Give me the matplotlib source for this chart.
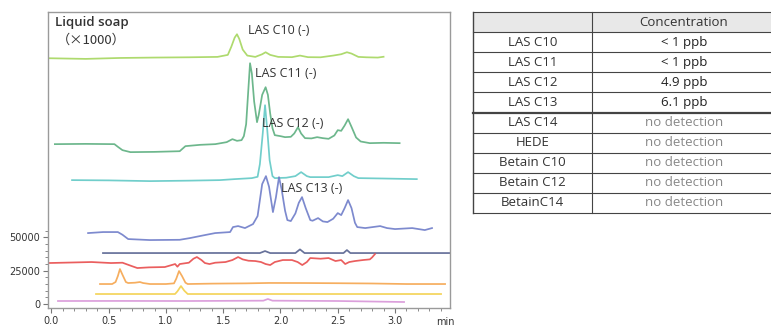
import matplotlib
matplotlib.use("Agg")
import matplotlib.pyplot as plt
from matplotlib.ticker import FixedLocator, MultipleLocator

plt.rcParams['font.family'] = ['Open Sans', 'Noto Sans CJK JP', 'DejaVu Sans']

# ---------------- data (time in min, intensity in counts) ----------------
c10_t = [-0.03, 0.3, 0.6, 0.9, 1.2, 1.45, 1.54, 1.57, 1.60, 1.62, 1.64, 1.67, 1.71, 1.78,
         1.84, 1.87, 1.91, 1.98, 2.1, 2.17, 2.24, 2.35, 2.46, 2.53, 2.58, 2.62, 2.68, 2.75, 2.85, 2.9]
c10_v = [184500, 184000, 184700, 185000, 185200, 185500, 187000, 193000, 200000, 202500, 199000,
         191000, 186500, 185500, 187500, 189000, 187000, 185500, 185300, 186500, 185300, 185200,
         186500, 187500, 189000, 188000, 185500, 185200, 185000, 185600]

c11_t = [0.03, 0.3, 0.55, 0.58, 0.62, 0.69, 0.9, 1.12, 1.15, 1.17, 1.3, 1.43, 1.53, 1.58, 1.62,
         1.66, 1.68, 1.70, 1.72, 1.734, 1.75, 1.77, 1.795, 1.81, 1.84, 1.87, 1.89, 1.91, 1.93, 1.95,
         2.0, 2.04, 2.09, 2.12, 2.153, 2.18, 2.214, 2.27, 2.32, 2.37, 2.42, 2.47, 2.50, 2.53, 2.56,
         2.59, 2.62, 2.66, 2.7, 2.78, 2.9, 3.04]
c11_v = [120000, 120200, 120000, 118000, 115500, 114000, 114200, 114700, 117000, 118500, 119500,
         120000, 121500, 123750, 122500, 123000, 126000, 135000, 162000, 180750, 173000, 152000,
         136500, 142000, 157000, 162750, 157000, 143000, 132000, 126750, 126000, 125250, 125500,
         128000, 132750, 128000, 124500, 124300, 125250, 124500, 124000, 126500, 130500, 130000,
         134000, 138750, 133000, 125000, 122000, 120750, 121000, 120750]

c12_t = [0.18, 0.5, 0.86, 1.2, 1.47, 1.6, 1.75, 1.80, 1.82, 1.845, 1.865, 1.885, 1.905, 1.93,
         1.95, 2.05, 2.13, 2.18, 2.23, 2.26, 2.42, 2.50, 2.54, 2.59, 2.64, 2.68, 2.9, 3.19]
c12_v = [93000, 92800, 92250, 92600, 93000, 93750, 94500, 95500, 105000, 128000, 149250, 130000,
         108000, 96000, 94500, 94800, 96000, 99000, 96000, 95250, 95250, 96750, 96000, 99000,
         96000, 94500, 94200, 93750]

c13_t = [0.32, 0.45, 0.58, 0.62, 0.67, 0.86, 1.12, 1.21, 1.34, 1.43, 1.56, 1.585, 1.63, 1.69,
         1.76, 1.80, 1.82, 1.84, 1.873, 1.90, 1.934, 1.96, 1.987, 2.01, 2.04, 2.06, 2.09, 2.13,
         2.16, 2.188, 2.22, 2.26, 2.28, 2.328, 2.37, 2.41, 2.46, 2.50, 2.53, 2.56, 2.59, 2.62,
         2.65, 2.67, 2.74, 2.87, 2.93, 3.0, 3.15, 3.26, 3.323]
c13_v = [53250, 54000, 54000, 52000, 48750, 48000, 48200, 49500, 51750, 53250, 54000, 57750,
         58500, 57000, 60000, 66000, 78000, 90000, 96000, 88000, 69000, 80000, 95250, 86000,
         70000, 63000, 62250, 68000, 76000, 80250, 72000, 63000, 62500, 64500, 62000, 61500,
         64000, 68250, 66750, 72000, 78000, 72000, 61000, 57750, 57000, 58500, 57000, 56250,
         57000, 55500, 57000]

c14_t = [0.45, 1.0, 1.5, 1.82, 1.865, 1.91, 2.13, 2.17, 2.21, 2.55, 2.58, 2.61, 3.0, 3.48]
c14_v = [38250, 38250, 38300, 38250, 39750, 38250, 38250, 41000, 38250, 38250, 40500, 38250,
         38250, 38250]

hede_t = [-0.03, 0.2, 0.35, 0.52, 0.62, 0.70, 0.75, 0.85, 0.99, 1.08, 1.10, 1.12, 1.20, 1.24,
          1.27, 1.31, 1.34, 1.38, 1.43, 1.52, 1.58, 1.63, 1.67, 1.72, 1.78, 1.83, 1.87, 1.91,
          1.95, 2.02, 2.10, 2.15, 2.19, 2.23, 2.26, 2.35, 2.42, 2.48, 2.53, 2.565, 2.60, 2.65,
          2.72, 2.78, 2.80, 2.825]
hede_v = [30750, 31200, 31500, 30750, 31000, 28500, 27000, 27500, 27750, 30000, 28000, 30000,
          31000, 34000, 35250, 33000, 30750, 30000, 31000, 31500, 33000, 35250, 33500, 32500,
          32250, 31500, 30000, 29250, 31500, 33000, 33000, 31500, 29250, 31500, 34500, 34000,
          34500, 32250, 33000, 30000, 31500, 32250, 33000, 33500, 35000, 37500]

b10_t = [0.424, 0.53, 0.56, 0.58, 0.598, 0.62, 0.65, 0.67, 0.73, 0.773, 0.80, 0.86, 1.0, 1.07,
         1.09, 1.114, 1.14, 1.17, 1.19, 1.4, 1.7, 1.9, 2.2, 2.5, 2.8, 3.1, 3.437]
b10_v = [15000, 15000, 16500, 21000, 26250, 22000, 16500, 15750, 16000, 16500, 15750, 15000,
         15000, 15500, 19000, 24750, 21000, 16000, 15000, 15300, 15500, 15800, 15750, 15600,
         15400, 15000, 15000]

b12_t = [0.389, 0.8, 1.079, 1.10, 1.131, 1.16, 1.19, 1.6, 2.5, 3.402]
b12_v = [7500, 7500, 7500, 9500, 13500, 10000, 7500, 7500, 7500, 7500]

b14_t = [0.057, 0.6, 1.2, 1.85, 1.89, 1.93, 2.5, 3.079]
b14_v = [2250, 2300, 2250, 2500, 3750, 2500, 2250, 1500]

trace_colors = ['#a5d65e', '#5daf80', '#62c9c6', '#6f7dc9', '#56628f',
                '#e84c4c', '#f5a54e', '#f3d04a', '#d895d8']

peak_labels = ['LAS C10 (-)', 'LAS C11 (-)', 'LAS C12 (-)', 'LAS C13 (-)']
peak_label_t = [1.716, 1.777, 1.838, 2.004]
peak_label_v = [205500, 173250, 135750, 87000]

y_ticks = [0, 25000, 50000]
x_ticks = [0.0, 0.5, 1.0, 1.5, 2.0, 2.5, 3.0]

compounds = ['LAS C10', 'LAS C11', 'LAS C12', 'LAS C13', 'LAS C14', 'HEDE',
             'Betain C10', 'Betain C12', 'BetainC14']
concentrations = ['< 1 ppb', '< 1 ppb', '4.9 ppb', '6.1 ppb', 'no detection', 'no detection',
                  'no detection', 'no detection', 'no detection']

# ---------------- figure ----------------
W, H = 771, 327
fig = plt.figure(figsize=(W / 100, H / 100), dpi=100)

# background layer for the table (pixel coordinates)
tax = fig.add_axes([0, 0, 1, 1])
tax.set_xlim(0, W)
tax.set_ylim(H, 0)
tax.axis('off')

ax = fig.add_axes([48 / W, 1 - 308 / H, (450 - 48) / W, (308 - 12) / H])
series = [(c10_t, c10_v), (c11_t, c11_v), (c12_t, c12_v), (c13_t, c13_v), (c14_t, c14_v),
          (hede_t, hede_v), (b10_t, b10_v), (b12_t, b12_v), (b14_t, b14_v)]
for (t, v), col in zip(series, trace_colors):
    ax.plot(t, v, color=col, lw=1.25, alpha=0.9, solid_joinstyle='round')

ax.set_xlim(-0.03, 3.48)
ax.set_ylim(-3000, 219200)
ax.xaxis.set_major_locator(FixedLocator(x_ticks))
ax.xaxis.set_minor_locator(MultipleLocator(0.1))
ax.yaxis.set_major_locator(FixedLocator(y_ticks))
ax.yaxis.set_minor_locator(FixedLocator([5000 * i for i in range(12)]))
ax.set_xticklabels([f'{x:.1f}' for x in x_ticks])
ax.set_yticklabels([str(y) for y in y_ticks])
ax.tick_params(axis='both', which='major', labelsize=7, colors='#777', labelcolor='#333',
               length=3.5, width=0.8, direction='out', pad=2)
ax.tick_params(axis='both', which='minor', colors='#777', length=2, width=0.6, direction='out')
for lab in ax.get_xticklabels() + ax.get_yticklabels():
    lab.set_family(['DejaVu Sans'])
for s in ax.spines.values():
    s.set_color('#9a9a9a')
    s.set_linewidth(1.0)

ax.text(0.03, 211500, 'Liquid soap', fontsize=9.5, color='#333', ha='left', va='center',
        fontweight='semibold')
ax.text(0.35, 198000, '（×1000）', fontsize=9.5, color='#333', ha='center', va='center',
        family=['Noto Sans CJK JP', 'DejaVu Sans'])
for lab, t, v in zip(peak_labels, peak_label_t, peak_label_v):
    ax.text(t, v, lab, fontsize=9, color='#333', ha='left', va='center')

fig.text(445 / W, 1 - 322 / H, 'min', fontsize=7, color='#333', ha='center', va='center',
         family=['DejaVu Sans'])

# ---------------- table ----------------
tx0, tx1, tx2 = 473, 592, 776
ty0, rh = 12, 20.1
nrows = len(compounds) + 1
tax.fill_between([tx0, tx2], ty0, ty0 + rh, color='#e8e8e8', lw=0)
tax.text((tx1 + tx2) / 2, ty0 + rh / 2, 'Concentration', fontsize=9.5, color='#333',
         ha='center', va='center')
for i, (name, conc) in enumerate(zip(compounds, concentrations)):
    yc = ty0 + rh * (i + 1.5)
    tax.text((tx0 + tx1) / 2, yc, name, fontsize=9.5, color='#333', ha='center', va='center')
    ccol = '#888' if conc.startswith('no') else '#222'
    tax.text((tx1 + tx2) / 2, yc, conc, fontsize=9.5, color=ccol, ha='center', va='center')
for i in range(nrows + 1):
    y = ty0 + rh * i
    lw = 1.6 if i == 5 else 0.8
    tax.plot([tx0, tx2], [y, y], color='#444', lw=lw)
tax.plot([tx0, tx0], [ty0, ty0 + rh * nrows], color='#444', lw=1.0)
tax.plot([tx1, tx1], [ty0, ty0 + rh * nrows], color='#444', lw=0.8)

fig.savefig('out.png', dpi=100, facecolor='white')
